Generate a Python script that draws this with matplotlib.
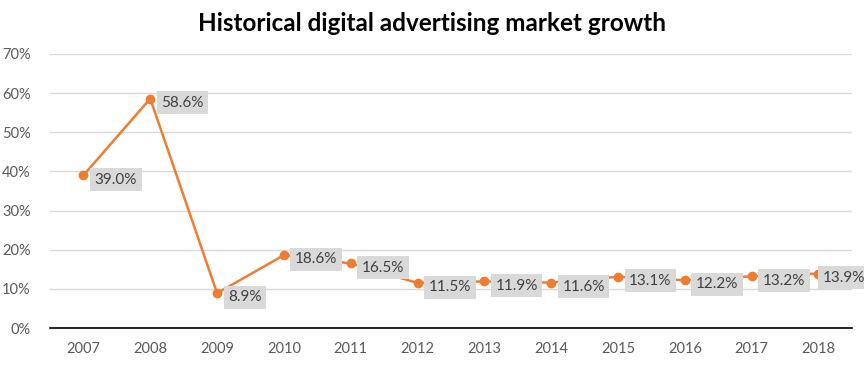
import matplotlib
matplotlib.use("Agg")
import matplotlib.pyplot as plt
from matplotlib.ticker import PercentFormatter

years = ["2007", "2008", "2009", "2010", "2011", "2012", "2013", "2014", "2015", "2016", "2017", "2018"]
growth = [39.0, 58.6, 8.9, 18.6, 16.5, 11.5, 11.9, 11.6, 13.1, 12.2, 13.2, 13.9]
title = "Historical digital advertising market growth"

plt.rcParams['font.family'] = ['Lato', 'DejaVu Sans']

fig = plt.figure(figsize=(8.64, 3.66), dpi=100)
ax = fig.add_axes([0.0579, 0.1038, 0.9281, 0.7487])

x = list(range(len(years)))
ax.plot(x, growth, color="#ed7d31", linewidth=1.8, marker="o", markersize=6, zorder=3)

for i, (xi, v) in enumerate(zip(x, growth)):
    dx = 8 if i < len(x) - 1 else 3
    ax.annotate(f"{v:.1f}%", (xi, v), xytext=(dx, -3), textcoords="offset points",
                ha="left", va="center", fontsize=11, color="#404040",
                bbox=dict(boxstyle="square,pad=0.3", fc="#d9d9d9", ec="none"), zorder=4)

ax.set_xlim(-0.5, len(years) - 0.5)
ax.set_ylim(0, 70)
ax.set_yticks(range(0, 71, 10))
ax.yaxis.set_major_formatter(PercentFormatter(decimals=0))
ax.set_xticks(x)
ax.set_xticklabels(years)
ax.grid(axis="y", color="#d9d9d9", linewidth=1)
ax.set_axisbelow(True)
for s in ["top", "right", "left"]:
    ax.spines[s].set_visible(False)
ax.spines["bottom"].set_color("black")
ax.spines["bottom"].set_linewidth(1.2)
ax.tick_params(axis="both", length=0, labelsize=10.5, labelcolor="#595959")
ax.tick_params(axis="y", pad=14)
ax.tick_params(axis="x", pad=10)

fig.text(0.5, 0.935, title, ha="center", va="center", fontsize=17.5, fontweight="bold", color="black")

fig.savefig("out.png", dpi=100)
